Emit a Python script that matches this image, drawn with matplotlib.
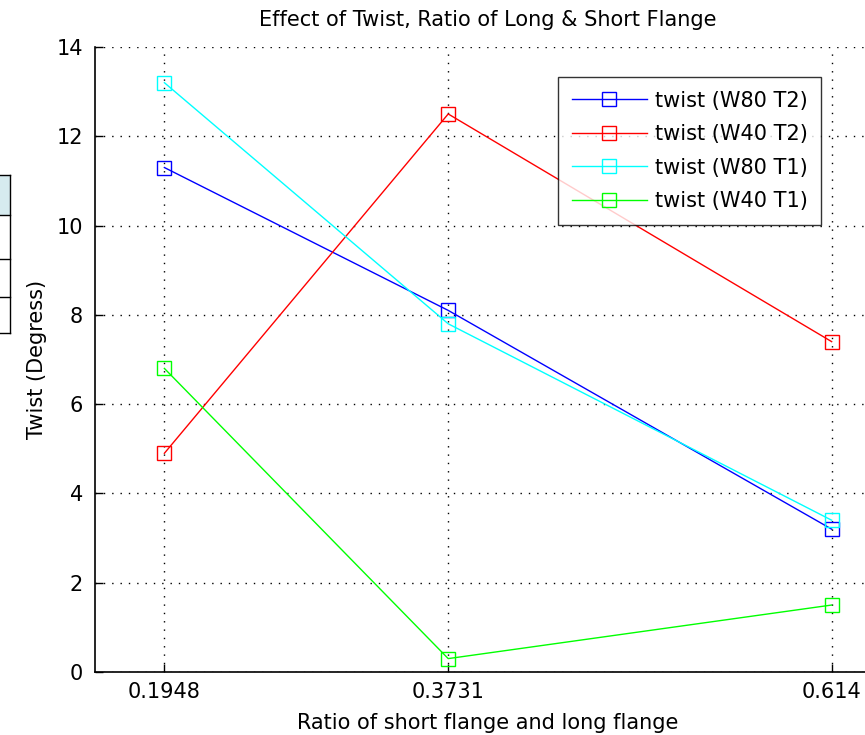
import matplotlib
matplotlib.use("Agg")
import matplotlib.pyplot as plt
from matplotlib.patches import Rectangle
from matplotlib.lines import Line2D

# flange ratio (short / long) and measured twist in degrees
ratio = [0.1948, 0.3731, 0.614]
w80_t2 = [11.3, 8.1, 3.2]
w40_t2 = [4.9, 12.5, 7.4]
w80_t1 = [13.2, 7.8, 3.4]
w40_t1 = [6.8, 0.3, 1.5]

series = [
    ("twist (W80 T2)", w80_t2, (0, 0, 1)),
    ("twist (W40 T2)", w40_t2, (1, 0, 0)),
    ("twist (W80 T1)", w80_t1, (0, 1, 1)),
    ("twist (W40 T1)", w40_t1, (0, 1, 0)),
]

plt.rcParams["font.family"] = ["DejaVu Sans"]
fs = 15

fig = plt.figure(figsize=(8.65, 7.35), dpi=100)
W, H = 865, 735

# axes box runs past the right edge of the window
ax = fig.add_axes([95 / W, 63 / H, 786 / W, 625 / H])

for label, vals, col in series:
    ax.plot(ratio, vals, color=col, lw=1.0, marker="s", ms=10,
            mfc="none", mec=col, mew=1.0, label=label)

ax.set_xlim(0.1512, 0.645)
ax.set_ylim(0, 14)
ax.set_xticks(ratio)
ax.set_xticklabels(["0.1948", "0.3731", "0.614"])
ax.set_yticks(range(0, 15, 2))

for side in ("top", "right"):
    ax.spines[side].set_visible(False)
for side in ("left", "bottom"):
    ax.spines[side].set_linewidth(1.2)
ax.tick_params(direction="in", length=6, width=1, labelsize=fs)
ax.tick_params(axis="x", pad=7)
ax.tick_params(axis="y", pad=8.5)
ax.grid(True, color="black", linestyle=(0, (1, 5)), linewidth=1.0)
ax.set_axisbelow(True)

ax.set_title("Effect of Twist, Ratio of Long & Short Flange", fontsize=fs, pad=15)
ax.set_xlabel("Ratio of short flange and long flange", fontsize=fs, labelpad=8)
ax.set_ylabel("Twist (Degress)", fontsize=fs, labelpad=7)

leg = ax.legend(loc="upper left", bbox_to_anchor=((558 - 95) / 786, (672 - 77) / 625),
                fontsize=fs, frameon=True, fancybox=False, edgecolor="black",
                handlelength=3.6, handletextpad=0.4, labelspacing=0.65,
                borderpad=0.65, borderaxespad=0)
leg.get_frame().set_linewidth(1.0)

# neighbouring table window peeking in at the left
def fy(py):
    return 1 - py / H

fig.patches.append(Rectangle((0, fy(215)), 10 / W, (215 - 175) / H,
                             transform=fig.transFigure, facecolor="#d6ebef",
                             edgecolor="none"))
for py in (175, 215, 259, 297, 333):
    fig.lines.append(Line2D([0, 10 / W], [fy(py), fy(py)], transform=fig.transFigure,
                            color="black", lw=1))
fig.lines.append(Line2D([10 / W, 10 / W], [fy(333), fy(175)], transform=fig.transFigure,
                        color="black", lw=1))

fig.savefig("out.png", dpi=100)
